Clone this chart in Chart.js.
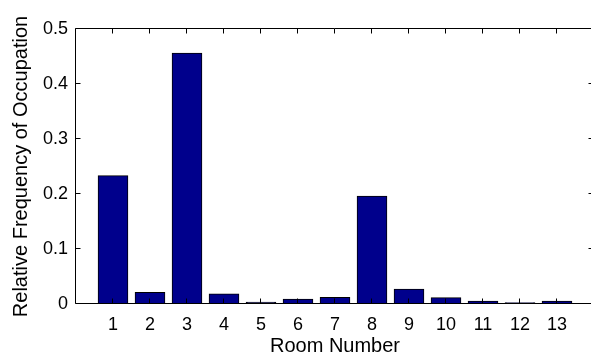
<!DOCTYPE html>
<html>
<head>
<meta charset="utf-8">
<script src="https://cdn.jsdelivr.net/npm/chart.js@4.4.1/dist/chart.umd.min.js"></script>
<style>
  html, body { margin: 0; padding: 0; background: #fff; overflow: hidden; }
  #wrap { width: 591px; height: 360px; overflow: hidden; }
</style>
</head>
<body>
<div id="wrap"><canvas id="chart" width="600" height="360"></canvas></div>
<script>
// room numbers and how often each was occupied
const rooms = [1, 2, 3, 4, 5, 6, 7, 8, 9, 10, 11, 12, 13];
const freq = [0.233, 0.021, 0.456, 0.018, 0.003, 0.0085, 0.012, 0.196, 0.027, 0.0115, 0.005, 0.0025, 0.005];
const yTicks = [0, 0.1, 0.2, 0.3, 0.4, 0.5];
const xRange = [0, 14];

const FONT = "'Liberation Sans', Arial, Helvetica, sans-serif";

// matlab style box with inward ticks, drawn over the bars
const boxAxes = {
    id: 'boxAxes',
    afterDatasetsDraw(chart) {
        const {ctx, chartArea: a, scales: {x, y}} = chart;
        const L = Math.round(a.left) - 0.5, R = Math.round(a.right) - 0.5;
        const T = Math.round(a.top) - 0.5, B = Math.round(a.bottom) - 0.5;
        const len = 5;
        ctx.save();
        ctx.strokeStyle = '#000';
        ctx.lineWidth = 1;
        ctx.beginPath();
        ctx.rect(L, T, R - L, B - T);
        rooms.forEach(v => {
            const px = Math.round(x.getPixelForValue(v)) - 0.5;
            ctx.moveTo(px, B); ctx.lineTo(px, B - len);
            ctx.moveTo(px, T); ctx.lineTo(px, T + len);
        });
        yTicks.forEach(v => {
            const py = Math.round(y.getPixelForValue(v)) - 0.5;
            ctx.moveTo(L, py); ctx.lineTo(L + len, py);
            ctx.moveTo(R, py); ctx.lineTo(R - len, py);
        });
        ctx.stroke();
        ctx.restore();
    }
};

new Chart(document.getElementById('chart'), {
    type: 'bar',
    data: {
        datasets: [{
            data: rooms.map((r, i) => ({x: r, y: freq[i]})),
            backgroundColor: 'rgb(0,0,140)',
            borderColor: '#000',
            borderWidth: 1,
            borderSkipped: false,
            inflateAmount: 0.5,
            categoryPercentage: 1,
            barPercentage: 0.8
        }]
    },
    options: {
        responsive: false,
        animation: false,
        devicePixelRatio: 1,
        layout: {padding: {top: 29, right: 6, bottom: 0, left: 0}},
        plugins: {legend: {display: false}, tooltip: {enabled: false}},
        scales: {
            x: {
                type: 'linear',
                min: xRange[0],
                max: xRange[1],
                offset: false,
                grid: {display: false, drawTicks: false},
                border: {display: false},
                afterBuildTicks: s => { s.ticks = rooms.map(v => ({value: v})); },
                afterFit: s => { s.height = 56; },
                ticks: {
                    padding: 10,
                    color: '#000',
                    maxRotation: 0,
                    autoSkip: false,
                    font: {family: FONT, size: 18}
                },
                title: {
                    display: true,
                    text: 'Room Number',
                    color: '#000',
                    padding: {top: 0, bottom: 2},
                    font: {family: FONT, size: 20}
                }
            },
            y: {
                min: 0,
                max: 0.5,
                grid: {display: false, drawTicks: false},
                border: {display: false},
                afterBuildTicks: s => { s.ticks = yTicks.map(v => ({value: v})); },
                afterFit: s => { s.width = 76; },
                ticks: {
                    padding: 8,
                    color: '#000',
                    font: {family: FONT, size: 18},
                    callback: v => String(Math.round(v * 10) / 10)
                },
                title: {
                    display: true,
                    text: 'Relative Frequency of Occupation',
                    color: '#000',
                    padding: {top: 9, bottom: 0},
                    font: {family: FONT, size: 20}
                }
            }
        }
    },
    plugins: [boxAxes]
});
</script>
</body>
</html>
